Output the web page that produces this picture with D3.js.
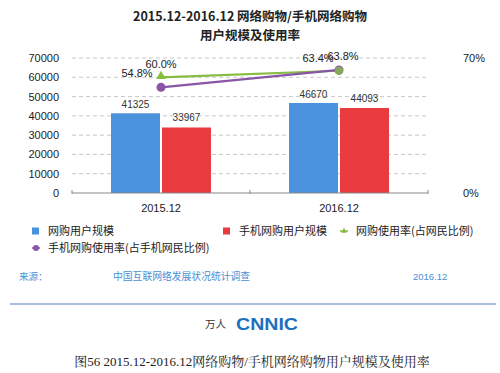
<!DOCTYPE html>
<html>
<head>
<meta charset="utf-8">
<script src="https://cdn.jsdelivr.net/npm/d3@7"></script>
<style>
  body { margin: 0; background: #fff; }
  svg { display: block; font-family: "Liberation Sans", "Noto Sans CJK SC", sans-serif; }
  .cjk { font-family: "Noto Sans CJK SC", sans-serif; }
</style>
</head>
<body>
<div id="chart"></div>
<script>
// data
const periods = ['2015.12', '2016.12'];
const shoppers = [41325, 46670];        // 网购用户规模 (万人)
const mobileShoppers = [33967, 44093];  // 手机网购用户规模
const shopRate = [60.0, 63.4];          // 网购使用率
const mobileRate = [54.8, 63.8];        // 手机网购使用率
const leftTicks = [0, 10000, 20000, 30000, 40000, 50000, 60000, 70000];
const rightTicks = [0, 70];

const W = 500, H = 373;
const margin = { left: 72, right: 72, top: 58 };
const plotBottom = 193;

const svg = d3.select('#chart').append('svg')
    .attr('width', W)
    .attr('height', H);

const x = d3.scaleBand()
    .domain(periods)
    .range([margin.left, W - margin.right]);

const y = d3.scaleLinear().domain([0, 70000]).range([plotBottom, margin.top]);
const yr = d3.scaleLinear().domain([0, 70]).range([plotBottom, margin.top]);

// title
svg.append('text').attr('class', 'cjk')
    .attr('x', 250).attr('y', 21)
    .attr('text-anchor', 'middle')
    .style('font-size', '12.5px').style('font-weight', 'bold')
    .attr('fill', '#222')
    .text('2015.12-2016.12 网络购物/手机网络购物');
svg.append('text').attr('class', 'cjk')
    .attr('x', 250).attr('y', 40)
    .attr('text-anchor', 'middle')
    .style('font-size', '12.5px').style('font-weight', 'bold')
    .attr('fill', '#222')
    .text('用户规模及使用率');

// gridlines
svg.append('g')
    .selectAll('line')
    .data(leftTicks.filter(d => d > 0))
    .enter().append('line')
    .attr('x1', margin.left).attr('x2', W - margin.right)
    .attr('y1', d => y(d)).attr('y2', d => y(d))
    .attr('stroke', '#c8c8c8')
    .attr('stroke-dasharray', '4,3');

// left axis
const leftAxis = svg.append('g')
    .attr('transform', 'translate(' + (margin.left - 13) + ',0)')
    .call(d3.axisLeft(y).tickValues(leftTicks).tickSize(0).tickFormat(d3.format('d')));
leftAxis.select('.domain').remove();
leftAxis.selectAll('text').style('font-size', '11px').attr('fill', '#222').attr('x', 0);

// right axis
const rightAxis = svg.append('g')
    .attr('transform', 'translate(' + (W - margin.right + 35) + ',0)')
    .call(d3.axisRight(yr).tickValues(rightTicks).tickSize(0).tickFormat(d => d + '%'));
rightAxis.select('.domain').remove();
rightAxis.selectAll('text').style('font-size', '11px').attr('fill', '#222').attr('x', 0);

// bars
const barW = 49;
const groups = svg.append('g').selectAll('g')
    .data(periods)
    .enter().append('g')
    .attr('transform', d => 'translate(' + (x(d) + x.bandwidth() / 2) + ',0)');

groups.append('rect')
    .attr('x', -barW - 1)
    .attr('y', (d, i) => y(shoppers[i]))
    .attr('width', barW)
    .attr('height', (d, i) => plotBottom - y(shoppers[i]))
    .attr('fill', '#4a92db');
groups.append('rect')
    .attr('x', 1)
    .attr('y', (d, i) => y(mobileShoppers[i]))
    .attr('width', barW)
    .attr('height', (d, i) => plotBottom - y(mobileShoppers[i]))
    .attr('fill', '#e83a3f');

groups.append('text')
    .attr('x', -barW / 2 - 1)
    .attr('y', (d, i) => y(shoppers[i]) - 5)
    .attr('text-anchor', 'middle')
    .style('font-size', '10px').attr('fill', '#333')
    .text((d, i) => shoppers[i]);
groups.append('text')
    .attr('x', barW / 2 + 1)
    .attr('y', (d, i) => y(mobileShoppers[i]) - 6)
    .attr('text-anchor', 'middle')
    .style('font-size', '10px').attr('fill', '#333')
    .text((d, i) => mobileShoppers[i]);

// x axis
const xAxis = svg.append('g')
    .attr('transform', 'translate(0,' + plotBottom + ')')
    .call(d3.axisBottom(x).tickSize(0).tickPadding(11));
xAxis.select('.domain').attr('stroke', '#888').attr('d', 'M' + margin.left + ',0H' + (W - margin.right));
xAxis.selectAll('text').style('font-size', '11px').attr('fill', '#222');
[margin.left, x(periods[1]), W - margin.right].forEach(function(px) {
    svg.append('line')
        .attr('x1', px).attr('x2', px)
        .attr('y1', plotBottom - 3).attr('y2', plotBottom + 1)
        .attr('stroke', '#888');
});

// rate lines
const cx = d => x(d) + x.bandwidth() / 2;
const line = d3.line().x(d => cx(d[0])).y(d => yr(d[1]));

svg.append('path')
    .datum(periods.map((p, i) => [p, shopRate[i]]))
    .attr('d', line)
    .attr('fill', 'none').attr('stroke', '#86bc42').attr('stroke-width', 2.2);
svg.append('path')
    .datum(periods.map((p, i) => [p, mobileRate[i]]))
    .attr('d', line)
    .attr('fill', 'none').attr('stroke', '#8a55a6').attr('stroke-width', 2.2);

svg.append('path')
    .attr('d', d3.symbol(d3.symbolTriangle, 40))
    .attr('transform', 'translate(' + cx(periods[0]) + ',' + (yr(shopRate[0]) - 1) + ')')
    .attr('fill', '#86bc42');
svg.append('circle')
    .attr('cx', cx(periods[0])).attr('cy', yr(mobileRate[0])).attr('r', 4.5)
    .attr('fill', '#8a55a6');
svg.append('circle')
    .attr('cx', cx(periods[1])).attr('cy', yr(mobileRate[1])).attr('r', 4.5)
    .attr('fill', '#8a55a6');
svg.append('circle')
    .attr('cx', cx(periods[1])).attr('cy', yr(shopRate[1])).attr('r', 4.2)
    .attr('fill', '#86a85a');

// rate labels (the two 2016.12 labels overlap in the original too)
function rateLabel(px, py, txt) {
    svg.append('text')
        .attr('x', px).attr('y', py)
        .attr('text-anchor', 'middle')
        .style('font-size', '11px').attr('fill', '#222')
        .text(txt);
}
rateLabel(cx(periods[0]), yr(shopRate[0]) - 9, shopRate[0].toFixed(1) + '%');
rateLabel(cx(periods[0]) - 24, yr(mobileRate[0]) - 10, mobileRate[0].toFixed(1) + '%');
rateLabel(cx(periods[1]) - 21, yr(shopRate[1]) - 9, shopRate[1].toFixed(1) + '%');
rateLabel(cx(periods[1]) + 4, yr(mobileRate[1]) - 10, mobileRate[1].toFixed(1) + '%');

// legend
const legend = [
    { label: '网购用户规模', color: '#4a92db', kind: 'rect', x: 32, y: 231 },
    { label: '手机网购用户规模', color: '#e83a3f', kind: 'rect', x: 223, y: 231 },
    { label: '网购使用率(占网民比例)', color: '#86bc42', kind: 'tri', x: 340, y: 231 },
    { label: '手机网购使用率(占手机网民比例)', color: '#8a55a6', kind: 'dot', x: 32, y: 248 }
];
legend.forEach(function(d) {
    if (d.kind === 'rect') {
        svg.append('rect').attr('x', d.x).attr('y', d.y - 3.5).attr('width', 7).attr('height', 7).attr('fill', d.color);
    } else if (d.kind === 'tri') {
        svg.append('line').attr('x1', d.x).attr('x2', d.x + 8).attr('y1', d.y).attr('y2', d.y).attr('stroke', d.color).attr('stroke-width', 1.5);
        svg.append('path').attr('d', d3.symbol(d3.symbolTriangle, 14)).attr('transform', 'translate(' + (d.x + 4) + ',' + d.y + ')').attr('fill', d.color);
    } else {
        svg.append('line').attr('x1', d.x).attr('x2', d.x + 8).attr('y1', d.y).attr('y2', d.y).attr('stroke', d.color).attr('stroke-width', 1.5);
        svg.append('circle').attr('cx', d.x + 4).attr('cy', d.y).attr('r', 3).attr('fill', d.color);
    }
    svg.append('text').attr('class', 'cjk')
        .attr('x', d.x + 16).attr('y', d.y + 4)
        .style('font-size', '11px').attr('fill', '#222')
        .text(d.label);
});

// source line
svg.append('text').attr('class', 'cjk').attr('x', 19).attr('y', 280)
    .style('font-size', '9.5px').attr('fill', '#4a8fd6').text('来源：');
svg.append('text').attr('class', 'cjk').attr('x', 113).attr('y', 280)
    .style('font-size', '9.8px').attr('fill', '#4a8fd6').text('中国互联网络发展状况统计调查');
svg.append('text').attr('x', 413).attr('y', 280)
    .style('font-size', '9.5px').attr('fill', '#4a8fd6').text('2016.12');

svg.append('line')
    .attr('x1', 10).attr('x2', 496).attr('y1', 304).attr('y2', 304)
    .attr('stroke', '#4f7fb5').attr('stroke-width', 1);

svg.append('text').attr('class', 'cjk').attr('x', 205).attr('y', 328)
    .style('font-size', '10.5px').attr('fill', '#333').text('万人');
svg.append('text').attr('x', 236).attr('y', 330)
    .style('font-size', '17px').style('font-weight', 'bold').attr('fill', '#1d6fc0')
    .attr('textLength', 62).attr('lengthAdjust', 'spacingAndGlyphs')
    .text('CNNIC');

svg.append('text')
    .attr('x', 252).attr('y', 366)
    .attr('text-anchor', 'middle')
    .style('font-family', '"Liberation Serif", "Noto Serif CJK SC", "Noto Sans CJK SC", serif')
    .style('font-size', '13px').attr('fill', '#222')
    .text('图56  2015.12-2016.12网络购物/手机网络购物用户规模及使用率');
</script>
</body>
</html>
